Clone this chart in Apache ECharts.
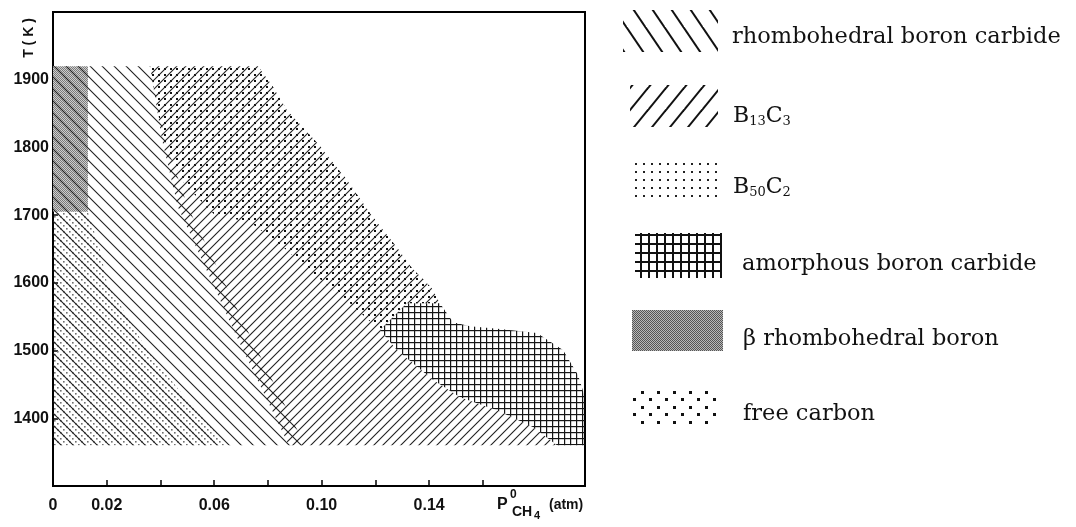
<!DOCTYPE html>
<html>
<head>
<meta charset="utf-8">
<script src="https://cdn.jsdelivr.net/npm/echarts@6/dist/echarts.min.js"></script>
<style>
  html, body { margin: 0; padding: 0; background: #fff; }
  #chart { width: 1076px; height: 527px; }
</style>
</head>
<body>
<div id="chart"></div>
<script>
// Deposition phase fields: boundary points as [p(CH4) in atm, T in K]
const rhombohedralBC = [[0, 1920], [0.0361, 1920], [0.0417, 1811], [0.0502, 1712], [0.0741, 1516], [0.0938, 1360], [0, 1360]];
const b13c3 = [[0.0361, 1920], [0.0763, 1920], [0.0815, 1892], [0.0871, 1855], [0.0983, 1807], [0.1094, 1752],
  [0.1191, 1697], [0.1273, 1656], [0.1336, 1622], [0.1410, 1592], [0.1440, 1570], [0.1317, 1570], [0.1217, 1530],
  [0.1280, 1501], [0.1414, 1457], [0.1515, 1431], [0.1652, 1412], [0.1786, 1387], [0.1876, 1360], [0.0878, 1360],
  [0.0689, 1516], [0.0465, 1712], [0.0406, 1811]];
const b50c2 = [[0.0361, 1920], [0.0763, 1920], [0.0815, 1892], [0.0871, 1855], [0.0983, 1807], [0.1094, 1752],
  [0.1191, 1697], [0.1273, 1656], [0.1336, 1622], [0.1410, 1592], [0.1440, 1570], [0.1317, 1570], [0.1217, 1530],
  [0.1105, 1570], [0.0983, 1609], [0.0856, 1653], [0.0733, 1690], [0.0603, 1700], [0.0491, 1745], [0.0409, 1811]];
const amorphousBC = [[0.1317, 1570], [0.1440, 1570], [0.1489, 1542], [0.1552, 1536], [0.1664, 1532], [0.1801, 1526],
  [0.1898, 1501], [0.1954, 1464], [0.1980, 1431], [0.1980, 1360], [0.1876, 1360], [0.1786, 1387], [0.1652, 1412],
  [0.1515, 1431], [0.1414, 1457], [0.1280, 1501], [0.1217, 1530]];
const betaBoron = [[0, 1920], [0.0130, 1920], [0.0130, 1705], [0, 1705]];
const freeCarbon = [[0, 1705], [0.0130, 1705], [0.0175, 1649], [0.0201, 1600], [0.0350, 1501], [0.0499, 1427], [0.0648, 1360], [0, 1360]];

// Axis ticks and labels
const xTickValues = [0.02, 0.04, 0.06, 0.08, 0.10, 0.12, 0.14, 0.16];
const xLabelValues = [0, 0.02, 0.06, 0.10, 0.14];
const yTickValues = [1400, 1500, 1600, 1700, 1800, 1900];
const yLabelValues = [1400, 1500, 1600, 1700, 1800, 1900];

// Legend entries (rich-text markup for the formulas)
const legendLabels = ['rhombohedral boron carbide', '{b|B}{s|13}{b|C}{s|3}', '{b|B}{s|50}{b|C}{s|2}',
  'amorphous boron carbide', 'β rhombohedral boron', 'free carbon'];

// ---------- fill patterns ----------
function canvasTile(w, h) {
  const c = document.createElement('canvas');
  c.width = w; c.height = h;
  return c;
}
function hatch(w, h, dir, lw, color) {
  const c = canvasTile(w, h), g = c.getContext('2d');
  g.strokeStyle = color; g.lineWidth = lw;
  for (let k = -1; k <= 1; k++) {
    g.beginPath();
    if (dir === '\\') { g.moveTo(k * w - w, -h); g.lineTo(k * w + 2 * w, 2 * h); }
    else { g.moveTo(k * w + 2 * w, -h); g.lineTo(k * w - w, 2 * h); }
    g.stroke();
  }
  return { image: c, repeat: 'repeat' };
}
function dots(w, h, pts, size, color) {
  const c = canvasTile(w, h), g = c.getContext('2d');
  g.fillStyle = color;
  pts.forEach(p => g.fillRect(p[0], p[1], size, size));
  return { image: c, repeat: 'repeat' };
}
function mesh(w, h, lwV, lwH, color) {
  const c = canvasTile(w, h), g = c.getContext('2d');
  g.fillStyle = color;
  g.fillRect(0, 0, lwV, h);
  g.fillRect(0, 0, w, lwH);
  return { image: c, repeat: 'repeat' };
}
function stipple(dark, light) {
  const c = canvasTile(2, 2), g = c.getContext('2d');
  g.fillStyle = light; g.fillRect(0, 0, 2, 2);
  g.fillStyle = dark; g.fillRect(0, 0, 1, 1); g.fillRect(1, 1, 1, 1);
  return { image: c, repeat: 'repeat' };
}

const fillRhombo = hatch(12, 12, '\\', 1.1, '#1e1e1e');
const fillB13 = hatch(9, 9, '/', 1.1, '#1e1e1e');
const fillB50 = dots(6, 6, [[2, 2]], 2, '#111');
const fillAmorph = mesh(6, 6, 1.2, 1.2, '#151515');
const fillBeta = stipple('#7a7a7a', '#cfcfcf');
const fillCarbon = dots(6, 6, [[0, 0], [3, 3]], 1.6, '#707070');

const legendFills = [
  hatch(19, 28, '\\', 2, '#111'),
  hatch(18, 22, '/', 2, '#111'),
  dots(8, 8, [[3, 3]], 2, '#222'),
  mesh(8, 9, 2, 2, '#111'),
  stipple('#555', '#b8b8b8'),
  dots(16, 15, [[1, 1], [9, 8]], 3, '#111')
];

function region(name, pts, fill) {
  return {
    type: 'custom', name: name, silent: true, clip: true,
    data: pts,
    renderItem: function (params, api) {
      if (params.dataIndex !== 0) return null;
      return {
        type: 'polygon',
        shape: { points: pts.map(p => api.coord(p)) },
        style: { fill: fill, stroke: null }
      };
    }
  };
}

// ---------- legend graphics ----------
const swatches = [
  [623, 10, 95, 42], [630, 85, 88, 42], [630, 162, 90, 38],
  [635, 233, 87, 45], [632, 310, 91, 41], [632, 390, 89, 37]
];
const textPos = [[732, 37], [733, 116], [733, 187], [742, 264], [743, 339], [743, 414]];
const richFormula = {
  b: { fontFamily: 'DejaVu Serif', fontSize: 22, lineHeight: 24, verticalAlign: 'middle', fill: '#111' },
  s: { fontFamily: 'DejaVu Serif', fontSize: 13, lineHeight: 12, verticalAlign: 'bottom', fill: '#111' }
};
const legendGraphics = [];
swatches.forEach((r, i) => {
  legendGraphics.push({
    type: 'rect', silent: true,
    shape: { x: r[0], y: r[1], width: r[2], height: r[3] },
    style: { fill: legendFills[i], stroke: null }
  });
  legendGraphics.push({
    type: 'text', silent: true, x: textPos[i][0], y: textPos[i][1],
    style: {
      text: legendLabels[i], fill: '#111',
      font: '22.5px "DejaVu Serif"',
      verticalAlign: 'middle', align: 'left',
      rich: richFormula
    }
  });
});

// axis titles
const boldSans = '"Liberation Sans", Arial, sans-serif';
const axisTitles = [
  { type: 'text', silent: true, x: 29, y: 38, rotation: Math.PI / 2,
    style: { text: 'T ( K )', font: 'bold 14px ' + boldSans, fill: '#111', align: 'center', verticalAlign: 'middle' } },
  { type: 'text', silent: true, x: 497, y: 505, style: { text: 'P', font: 'bold 16px ' + boldSans, fill: '#111', verticalAlign: 'middle' } },
  { type: 'text', silent: true, x: 510, y: 495, style: { text: '0', font: 'bold 12px ' + boldSans, fill: '#111', verticalAlign: 'middle' } },
  { type: 'text', silent: true, x: 512, y: 512, style: { text: 'CH', font: 'bold 14px ' + boldSans, fill: '#111', verticalAlign: 'middle' } },
  { type: 'text', silent: true, x: 534, y: 516, style: { text: '4', font: 'bold 11px ' + boldSans, fill: '#111', verticalAlign: 'middle' } },
  { type: 'text', silent: true, x: 549, y: 505, style: { text: '(atm)', font: 'bold 14px ' + boldSans, fill: '#111', verticalAlign: 'middle' } }
];

const chart = echarts.init(document.getElementById('chart'), null, { renderer: 'canvas' });
chart.setOption({
  animation: false,
  backgroundColor: '#fff',
  grid: { left: 53, top: 12, width: 532, height: 474, show: true, borderColor: '#000', borderWidth: 2, backgroundColor: 'transparent' },
  xAxis: {
    type: 'value', min: 0, max: 0.198, interval: 0.02,
    axisLine: { show: true, lineStyle: { color: '#000', width: 2 } },
    axisTick: { show: true, inside: true, length: 6, customValues: xTickValues, lineStyle: { color: '#000', width: 1.5 } },
    axisLabel: {
      customValues: xLabelValues, margin: 12, color: '#111', fontWeight: 'bold', fontSize: 16, fontFamily: boldSans,
      formatter: v => (v === 0 ? '0' : v.toFixed(2))
    },
    splitLine: { show: false }
  },
  yAxis: {
    type: 'value', min: 1300, max: 2000, interval: 100,
    axisLine: { show: true, lineStyle: { color: '#000', width: 2 } },
    axisTick: { show: true, inside: true, length: 5, customValues: yTickValues, lineStyle: { color: '#000', width: 1.5 } },
    axisLabel: {
      customValues: yLabelValues, margin: 4, color: '#111', fontWeight: 'bold', fontSize: 16, fontFamily: boldSans,
      formatter: v => String(v)
    },
    splitLine: { show: false }
  },
  series: [
    region('β rhombohedral boron', betaBoron, fillBeta),
    region('free carbon', freeCarbon, fillCarbon),
    region('amorphous boron carbide', amorphousBC, fillAmorph),
    region('B50C2', b50c2, fillB50),
    region('rhombohedral boron carbide', rhombohedralBC, fillRhombo),
    region('B13C3', b13c3, fillB13)
  ],
  graphic: { elements: legendGraphics.concat(axisTitles) }
});
</script>
</body>
</html>
